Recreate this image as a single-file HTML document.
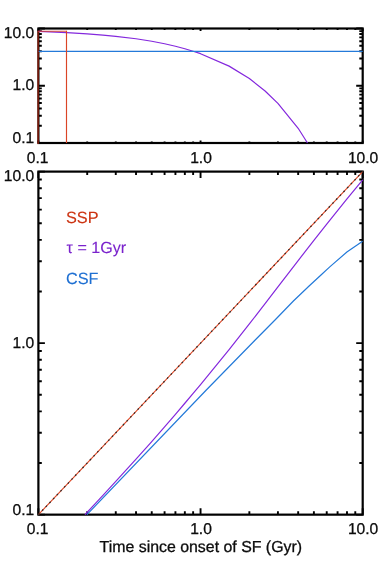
<!DOCTYPE html><html><head><meta charset="utf-8"><title>plot</title><style>html,body{margin:0;padding:0;background:#fff}svg{display:block;will-change:transform;opacity:0.999}text{font-family:"Liberation Sans",sans-serif;text-rendering:geometricPrecision}</style></head><body>
<svg width="382" height="572" viewBox="0 0 382 572">
<rect width="382" height="572" fill="#fff"/>
<defs><clipPath id="ct"><rect x="37.3" y="27.4" width="326.50" height="116.70"/></clipPath><clipPath id="cb"><rect x="37.3" y="170.5" width="326.50" height="345.25"/></clipPath></defs>
<rect x="38.4" y="28.5" width="324.30" height="114.50" fill="none" stroke="#000" stroke-width="2.2"/>
<path d="M38.40,143.0v-2.6M38.40,28.5v2.6M38.4,143.00h6.5M362.7,143.00h-6.5M87.21,143.0v-1.5M87.21,28.5v1.5M38.4,125.77h3.4M362.7,125.77h-3.4M115.77,143.0v-1.5M115.77,28.5v1.5M38.4,115.68h3.4M362.7,115.68h-3.4M136.02,143.0v-1.5M136.02,28.5v1.5M38.4,108.53h3.4M362.7,108.53h-3.4M151.74,143.0v-1.5M151.74,28.5v1.5M38.4,102.98h3.4M362.7,102.98h-3.4M164.58,143.0v-1.5M164.58,28.5v1.5M38.4,98.45h3.4M362.7,98.45h-3.4M175.43,143.0v-1.5M175.43,28.5v1.5M38.4,94.62h3.4M362.7,94.62h-3.4M184.84,143.0v-1.5M184.84,28.5v1.5M38.4,91.30h3.4M362.7,91.30h-3.4M193.13,143.0v-1.5M193.13,28.5v1.5M38.4,88.37h3.4M362.7,88.37h-3.4M200.55,143.0v-2.6M200.55,28.5v2.6M38.4,85.75h6.5M362.7,85.75h-6.5M249.36,143.0v-1.5M249.36,28.5v1.5M38.4,68.52h3.4M362.7,68.52h-3.4M277.92,143.0v-1.5M277.92,28.5v1.5M38.4,58.43h3.4M362.7,58.43h-3.4M298.17,143.0v-1.5M298.17,28.5v1.5M38.4,51.28h3.4M362.7,51.28h-3.4M313.89,143.0v-1.5M313.89,28.5v1.5M38.4,45.73h3.4M362.7,45.73h-3.4M326.73,143.0v-1.5M326.73,28.5v1.5M38.4,41.20h3.4M362.7,41.20h-3.4M337.58,143.0v-1.5M337.58,28.5v1.5M38.4,37.37h3.4M362.7,37.37h-3.4M346.99,143.0v-1.5M346.99,28.5v1.5M38.4,34.05h3.4M362.7,34.05h-3.4M355.28,143.0v-1.5M355.28,28.5v1.5M38.4,31.12h3.4M362.7,31.12h-3.4M362.70,143.0v-2.6M362.70,28.5v2.6M38.4,28.50h6.5M362.7,28.50h-6.5" fill="none" stroke="#000" stroke-width="1.9"/>
<rect x="38.4" y="171.6" width="324.30" height="343.05" fill="none" stroke="#000" stroke-width="2.2"/>
<path d="M38.40,514.65v-6.5M38.40,171.6v6.5M38.4,514.65h6.5M362.7,514.65h-6.5M87.21,514.65v-3.4M87.21,171.6v3.4M38.4,463.02h3.4M362.7,463.02h-3.4M115.77,514.65v-3.4M115.77,171.6v3.4M38.4,432.81h3.4M362.7,432.81h-3.4M136.02,514.65v-3.4M136.02,171.6v3.4M38.4,411.38h3.4M362.7,411.38h-3.4M151.74,514.65v-3.4M151.74,171.6v3.4M38.4,394.76h3.4M362.7,394.76h-3.4M164.58,514.65v-3.4M164.58,171.6v3.4M38.4,381.18h3.4M362.7,381.18h-3.4M175.43,514.65v-3.4M175.43,171.6v3.4M38.4,369.69h3.4M362.7,369.69h-3.4M184.84,514.65v-3.4M184.84,171.6v3.4M38.4,359.75h3.4M362.7,359.75h-3.4M193.13,514.65v-3.4M193.13,171.6v3.4M38.4,350.97h3.4M362.7,350.97h-3.4M200.55,514.65v-6.5M200.55,171.6v6.5M38.4,343.12h6.5M362.7,343.12h-6.5M249.36,514.65v-3.4M249.36,171.6v3.4M38.4,291.49h3.4M362.7,291.49h-3.4M277.92,514.65v-3.4M277.92,171.6v3.4M38.4,261.29h3.4M362.7,261.29h-3.4M298.17,514.65v-3.4M298.17,171.6v3.4M38.4,239.86h3.4M362.7,239.86h-3.4M313.89,514.65v-3.4M313.89,171.6v3.4M38.4,223.23h3.4M362.7,223.23h-3.4M326.73,514.65v-3.4M326.73,171.6v3.4M38.4,209.65h3.4M362.7,209.65h-3.4M337.58,514.65v-3.4M337.58,171.6v3.4M38.4,198.17h3.4M362.7,198.17h-3.4M346.99,514.65v-3.4M346.99,171.6v3.4M38.4,188.22h3.4M362.7,188.22h-3.4M355.28,514.65v-3.4M355.28,171.6v3.4M38.4,179.45h3.4M362.7,179.45h-3.4M362.70,514.65v-6.5M362.70,171.6v6.5M38.4,171.60h6.5M362.7,171.60h-6.5" fill="none" stroke="#000" stroke-width="1.9"/>
<g clip-path="url(#ct)">
<polyline points="38.40,31.31 66.95,32.55 87.21,33.80 102.93,35.04 115.77,36.28 136.02,38.77 151.74,41.26 164.58,43.74 175.43,46.23 184.84,48.72 193.13,51.20 200.55,53.69 229.10,66.12 249.36,78.55 265.08,90.98 277.92,103.42 298.17,128.28 307.48,143.00" fill="none" stroke="#8428dd" stroke-width="1.2" stroke-linejoin="round"/>
<line x1="38.4" x2="362.7" y1="51.28" y2="51.28" stroke="#247ad9" stroke-width="1.2"/>
<path d="M38.0,144.00 L38.0,30.81" fill="none" stroke="#c8280f" stroke-width="1.5" opacity="0.75"/><path d="M38.40,31.31 L66.5,31.31" fill="none" stroke="#d8401f" stroke-width="1.1" opacity="0.85"/><path d="M66.5,30.81 L66.5,143.00" fill="none" stroke="#db4526" stroke-width="1.15"/>
</g>
<g clip-path="url(#cb)">
<line x1="38.4" y1="514.65" x2="362.7" y2="171.6" stroke="#dd4422" stroke-width="1.1"/>
<line x1="38.4" y1="514.65" x2="362.7" y2="171.6" stroke="#2a2a2a" stroke-width="1.2" stroke-dasharray="1.7 3.65"/>
<polyline points="84.98,514.65 87.21,512.25 102.93,495.29 115.77,481.34 136.02,459.09 151.74,441.55 164.58,426.85 175.43,414.27 184.84,403.25 193.13,393.43 200.55,384.55 229.10,349.56 249.36,323.94 265.08,303.67 277.92,286.95 298.17,260.56 313.89,240.33 326.73,224.11 346.99,198.97 362.70,179.99" fill="none" stroke="#8428dd" stroke-width="1.2"/>
<polyline points="86.9,514.65 206.3,390 255.2,340 275,320 293.4,301 309.1,286 321,275 329.5,267.1 346.9,252 362.6,241.2" fill="none" stroke="#247ad9" stroke-width="1.2"/>
</g>
<text transform="translate(34.2,37.7) scale(1,1.0)" font-size="15.6" text-anchor="end" fill="#0c0c0c" stroke="#0c0c0c" stroke-width="0.3">10.0</text>
<text transform="translate(34.2,90.2) scale(1,1.0)" font-size="15.6" text-anchor="end" fill="#0c0c0c" stroke="#0c0c0c" stroke-width="0.3">1.0</text>
<text transform="translate(34.2,143) scale(1,1.0)" font-size="15.6" text-anchor="end" fill="#0c0c0c" stroke="#0c0c0c" stroke-width="0.3">0.1</text>
<text transform="translate(37.6,162.6) scale(1,1.0)" font-size="15.6" text-anchor="middle" fill="#0c0c0c" stroke="#0c0c0c" stroke-width="0.3">0.1</text>
<text transform="translate(201,162.6) scale(1,1.0)" font-size="15.6" text-anchor="middle" fill="#0c0c0c" stroke="#0c0c0c" stroke-width="0.3">1.0</text>
<text transform="translate(363.09999999999997,162.6) scale(1,1.0)" font-size="15.6" text-anchor="middle" fill="#0c0c0c" stroke="#0c0c0c" stroke-width="0.3">10.0</text>
<text transform="translate(34.2,181) scale(1,1.0)" font-size="15.6" text-anchor="end" fill="#0c0c0c" stroke="#0c0c0c" stroke-width="0.3">10.0</text>
<text transform="translate(34.2,348.2) scale(1,1.0)" font-size="15.6" text-anchor="end" fill="#0c0c0c" stroke="#0c0c0c" stroke-width="0.3">1.0</text>
<text transform="translate(34.2,515.3) scale(1,1.0)" font-size="15.6" text-anchor="end" fill="#0c0c0c" stroke="#0c0c0c" stroke-width="0.3">0.1</text>
<text transform="translate(37.6,534) scale(1,1.0)" font-size="15.6" text-anchor="middle" fill="#0c0c0c" stroke="#0c0c0c" stroke-width="0.3">0.1</text>
<text transform="translate(201,534) scale(1,1.0)" font-size="15.6" text-anchor="middle" fill="#0c0c0c" stroke="#0c0c0c" stroke-width="0.3">1.0</text>
<text transform="translate(363.09999999999997,534) scale(1,1.0)" font-size="15.6" text-anchor="middle" fill="#0c0c0c" stroke="#0c0c0c" stroke-width="0.3">10.0</text>
<text transform="translate(200.8,552) scale(1,1.0)" font-size="15.9" text-anchor="middle" fill="#0c0c0c" stroke="#0c0c0c" stroke-width="0.3">Time since onset of SF (Gyr)</text>
<text transform="translate(66.0,223.4) scale(1,1)" font-size="16.3" text-anchor="start" fill="#cc3311" stroke="#cc3311" stroke-width="0.1">SSP</text>
<text transform="translate(66.6,253.4) scale(1,1)" font-size="16.1" text-anchor="start" fill="#7a22cc" stroke="#7a22cc" stroke-width="0.1">&#964; = 1Gyr</text>
<text transform="translate(66.0,283.8) scale(1,1)" font-size="16.3" text-anchor="start" fill="#1e6fd2" stroke="#1e6fd2" stroke-width="0.1">CSF</text>
</svg></body></html>
